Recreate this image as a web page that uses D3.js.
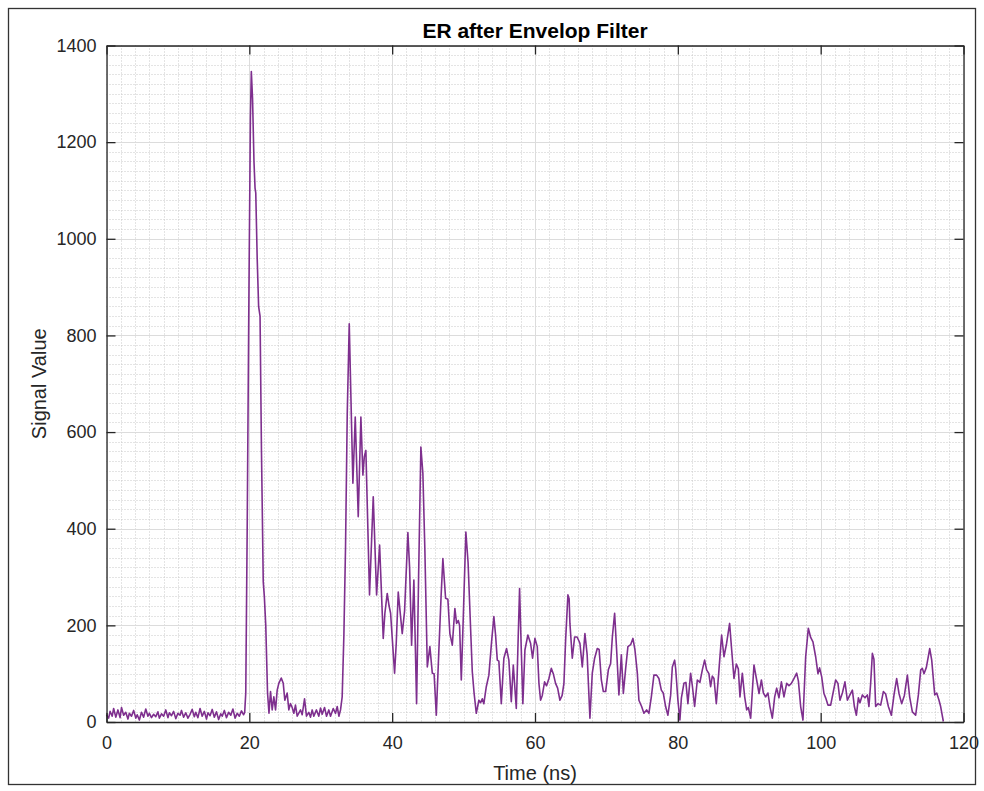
<!DOCTYPE html>
<html lang="en">
<head>
<meta charset="utf-8">
<title>ER after Envelop Filter</title>
<script src="https://d3js.org/d3.v7.min.js"></script>
<style>
  body { margin: 0; background: #ffffff; }
  text { font-family: "Liberation Sans", Arial, sans-serif; fill: #262626; }
  .axis-label { font-size: 20px; }
  .title { font-size: 21px; font-weight: bold; fill: #000; }
</style>
</head>
<body>
<script>
// chart text
const chartTitle = "ER after Envelop Filter";
const xLabel = "Time (ns)";
const yLabel = "Signal Value";

// tick labels
const xTicks = [0, 20, 40, 60, 80, 100, 120];
const yTicks = [0, 200, 400, 600, 800, 1000, 1200, 1400];

// signal samples: [time (ns), value]
const erSignal = [
  [0,15],[0.3,8],[0.5,22],[0.8,12],[1.0,28],[1.3,10],[1.6,25],[1.9,9],[2.1,30],[2.4,14],
  [2.7,20],[3.0,6],[3.2,18],[3.5,12],[3.8,24],[4.1,8],[4.3,15],[4.6,4],[4.9,20],[5.2,10],
  [5.5,27],[5.8,12],[6.0,18],[6.3,9],[6.6,16],[6.9,11],[7.2,21],[7.4,8],[7.7,17],[8.0,12],
  [8.3,25],[8.6,9],[8.8,19],[9.1,13],[9.4,22],[9.7,7],[10.0,18],[10.3,14],[10.5,24],[10.8,10],
  [11.1,19],[11.4,8],[11.7,16],[12.0,26],[12.3,11],[12.5,20],[12.8,9],[13.1,28],[13.4,12],[13.7,22],
  [14.0,6],[14.2,19],[14.5,13],[14.8,26],[15.1,10],[15.4,21],[15.7,5],[16.0,17],[16.2,12],[16.5,24],
  [16.8,9],[17.1,20],[17.4,14],[17.7,27],[18.0,8],[18.3,18],[18.6,12],[18.9,23],[19.2,15],
  [19.35,20],[19.5,60],[19.7,400],[19.95,900],[20.15,1250],[20.28,1346],[20.45,1290],[20.65,1160],
  [20.8,1105],[20.9,1095],[21.1,960],[21.3,860],[21.4,850],[21.5,840],[21.7,560],[21.95,290],
  [22.1,260],[22.3,200],[22.55,60],[22.75,18],
  [22.97,63],[23.2,25],[23.43,52],[23.67,25],[23.9,66],[24.13,80],[24.47,91],[24.75,80],[24.97,45],
  [25.3,60],[25.53,25],[25.76,38],[26.0,30],[26.23,18],[26.46,35],[26.7,12],[27.17,25],[27.4,15],
  [27.73,48],[28.0,12],[28.33,20],[28.57,10],[28.8,25],[29.03,12],[29.4,25],[29.73,12],[29.97,29],
  [30.2,16],[30.53,30],[30.81,12],[31.13,25],[31.37,12],[31.75,28],[32.07,18],[32.31,32],[32.54,12],
  [32.77,25],[33.0,52],[33.24,180],[33.47,362],[33.71,638],[33.99,824],[34.17,707],[34.5,494],
  [34.83,631],[35.25,425],[35.62,631],[35.9,511],[36.1,549],[36.32,562],[36.83,263],[37.35,466],
  [37.82,263],[38.24,366],[38.75,173],[38.98,225],[39.31,266],[39.57,240],[39.78,225],[40.0,176],
  [40.34,101],[40.57,163],[40.85,269],[41.1,230],[41.41,183],[41.74,230],[42.2,392],[42.44,320],
  [42.72,159],[43.04,294],[43.42,38],[43.7,300],[44.02,569],[44.3,514],[44.58,356],[44.92,114],
  [45.28,156],[45.62,101],[45.87,100],[46.18,14],[46.54,149],[46.85,260],[47.1,338],[47.48,256],
  [47.8,254],[48.08,183],[48.42,159],[48.78,235],[49.02,204],[49.26,210],[49.44,200],[49.68,87],
  [49.96,218],[50.32,393],[50.63,330],[50.98,194],[51.22,104],[51.47,60],[51.78,18],[52.14,45],
  [52.38,40],[52.62,48],[52.84,38],[53.18,73],[53.54,97],[53.92,166],[54.24,218],[54.48,180],
  [54.72,128],[54.94,126],[55.28,38],[55.64,132],[56.02,152],[56.34,128],[56.68,42],[56.96,118],
  [57.38,28],[57.6,150],[57.84,276],[58.08,150],[58.3,38],[58.59,149],[59.0,180],[59.38,163],
  [59.66,132],[59.99,173],[60.32,156],[60.55,80],[60.78,45],[61.02,55],[61.34,83],[61.62,75],
  [61.95,90],[62.28,111],[62.56,100],[62.88,80],[63.17,70],[63.49,45],[63.8,55],[64.05,80],
  [64.29,170],[64.61,263],[64.78,255],[64.89,204],[65.22,132],[65.55,176],[65.9,176],[66.29,163],
  [66.62,114],[66.99,183],[67.3,140],[67.69,8],[68.02,101],[68.35,132],[68.72,152],[68.98,150],
  [69.29,87],[69.57,63],[69.89,63],[70.27,108],[70.59,121],[70.83,176],[71.15,225],[71.43,149],
  [71.75,56],[72.09,139],[72.37,59],[72.69,110],[73.01,156],[73.39,160],[73.71,173],[73.99,150],
  [74.33,101],[74.55,45],[74.93,32],[75.25,18],[75.63,25],[75.95,18],[76.29,52],[76.65,97],
  [77.03,97],[77.35,90],[77.69,66],[77.96,60],[78.29,32],[78.61,14],[78.99,55],[79.23,114],
  [79.55,128],[79.7,110],[80.01,45],[80.29,4],[80.5,50],[80.85,80],[81.13,82],[81.41,38],
  [81.79,101],[82.03,75],[82.35,32],[82.73,87],[83.09,82],[83.43,108],[83.75,128],[84.03,108],
  [84.35,100],[84.59,73],[84.83,95],[85.06,90],[85.39,38],[85.76,108],[86.13,180],[86.46,135],
  [86.83,163],[87.25,204],[87.54,149],[87.86,90],[88.19,120],[88.47,110],[88.7,52],[89.03,101],
  [89.36,52],[89.64,25],[89.87,30],[90.2,8],[90.66,118],[91.0,90],[91.37,59],[91.7,87],
  [91.98,60],[92.3,52],[92.62,60],[92.9,32],[93.23,8],[93.56,52],[93.84,70],[94.16,50],
  [94.5,83],[94.86,52],[95.24,80],[95.56,75],[95.9,80],[96.26,90],[96.64,101],[96.88,85],
  [97.2,32],[97.52,4],[97.9,135],[98.27,194],[98.6,175],[98.92,166],[99.3,135],[99.62,100],
  [99.85,112],[100.14,94],[100.46,59],[100.7,50],[101.02,35],[101.4,35],[101.72,59],[102.1,87],
  [102.42,80],[102.7,45],[103.04,60],[103.4,83],[103.74,45],[104.06,55],[104.44,66],[104.72,32],
  [105.0,14],[105.28,50],[105.5,40],[105.84,56],[106.2,50],[106.54,56],[106.76,32],[107.0,80],
  [107.24,142],[107.46,130],[107.7,32],[108.02,38],[108.4,35],[108.78,63],[109.1,58],[109.48,32],
  [109.9,14],[110.27,56],[110.64,90],[110.97,59],[111.34,38],[111.72,55],[112.14,97],[112.46,52],
  [112.84,21],[113.3,14],[113.68,56],[114.01,108],[114.24,111],[114.47,100],[114.8,113],[115.27,152],
  [115.55,128],[115.97,56],[116.25,60],[116.57,45],[116.8,32],[117.18,1]
];

const width = 984, height = 791;
const margin = { left: 106.5, top: 45.5, right: 984 - 963.5, bottom: 791 - 722 };

const svg = d3.select("body").append("svg")
  .attr("width", width)
  .attr("height", height);

// figure frame
svg.append("rect")
  .attr("x", 8.5).attr("y", 8.5)
  .attr("width", 967).attr("height", 776)
  .attr("fill", "#fff")
  .attr("stroke", "#333").attr("stroke-width", 1.3);

const x = d3.scaleLinear().domain([0, 120]).range([margin.left, width - margin.right]);
const y = d3.scaleLinear().domain([0, 1400]).range([height - margin.bottom, margin.top]);

const x0 = x.range()[0], x1 = x.range()[1];
const y0 = y.range()[0], y1 = y.range()[1];

// minor grid (dotted)
const xMinor = d3.range(0, 121, 2).filter(v => v % 20 !== 0);
const yMinor = d3.range(0, 1401, 20).filter(v => v % 200 !== 0);
const grid = svg.append("g");
grid.selectAll("line.xm").data(xMinor).join("line")
  .attr("x1", d => Math.round(x(d)) + 0.5).attr("x2", d => Math.round(x(d)) + 0.5)
  .attr("y1", y1).attr("y2", y0)
  .attr("stroke", "#c8c8c8").attr("stroke-dasharray", "1,2");
grid.selectAll("line.ym").data(yMinor).join("line")
  .attr("y1", d => Math.round(y(d)) + 0.5).attr("y2", d => Math.round(y(d)) + 0.5)
  .attr("x1", x0).attr("x2", x1)
  .attr("stroke", "#c8c8c8").attr("stroke-dasharray", "1,2");

// major grid
grid.selectAll("line.xg").data(xTicks).join("line")
  .attr("x1", d => Math.round(x(d)) + 0.5).attr("x2", d => Math.round(x(d)) + 0.5)
  .attr("y1", y1).attr("y2", y0)
  .attr("stroke", "#dcdcdc");
grid.selectAll("line.yg").data(yTicks).join("line")
  .attr("y1", d => Math.round(y(d)) + 0.5).attr("y2", d => Math.round(y(d)) + 0.5)
  .attr("x1", x0).attr("x2", x1)
  .attr("stroke", "#dcdcdc");

// signal line
const line = d3.line().x(d => x(d[0])).y(d => y(d[1]));
svg.append("path")
  .datum(erSignal)
  .attr("fill", "none")
  .attr("stroke", "#7E2F8E")
  .attr("stroke-width", 1.6)
  .attr("stroke-linejoin", "round")
  .attr("d", line);

// axes, MATLAB-like: ticks inward, box on
const tickLen = 9;
const axisColor = "#262626";
const bottomAxis = d3.axisBottom(x).tickValues(xTicks).tickSizeInner(-tickLen).tickSizeOuter(0).tickPadding(14).tickFormat(d3.format("d"));
const topAxis = d3.axisTop(x).tickValues(xTicks).tickSizeInner(-tickLen).tickSizeOuter(0).tickFormat("");
const leftAxis = d3.axisLeft(y).tickValues(yTicks).tickSizeInner(-tickLen).tickSizeOuter(0).tickPadding(10).tickFormat(d3.format("d"));
const rightAxis = d3.axisRight(y).tickValues(yTicks).tickSizeInner(-tickLen).tickSizeOuter(0).tickFormat("");

function style(g) {
  g.select(".domain").attr("stroke", axisColor).attr("stroke-width", 1.3);
  g.selectAll(".tick line").attr("stroke", axisColor).attr("stroke-width", 1.3);
  g.selectAll(".tick text").attr("fill", axisColor)
    .style("font-family", "'Liberation Sans', Arial, sans-serif").style("font-size", "18px");
}

svg.append("g").attr("transform", `translate(0,${y0})`).call(bottomAxis).call(style);
svg.append("g").attr("transform", `translate(0,${y1})`).call(topAxis).call(style);
svg.append("g").attr("transform", `translate(${x0},0)`).call(leftAxis).call(style);
svg.append("g").attr("transform", `translate(${x1},0)`).call(rightAxis).call(style);

// labels
svg.append("text").attr("class", "title")
  .attr("x", (x0 + x1) / 2).attr("y", 38)
  .attr("text-anchor", "middle")
  .text(chartTitle);

svg.append("text").attr("class", "axis-label")
  .attr("x", (x0 + x1) / 2).attr("y", 780)
  .attr("text-anchor", "middle")
  .text(xLabel);

svg.append("text").attr("class", "axis-label")
  .attr("transform", `translate(46,${(y0 + y1) / 2}) rotate(-90)`)
  .attr("text-anchor", "middle")
  .text(yLabel);
</script>
</body>
</html>
